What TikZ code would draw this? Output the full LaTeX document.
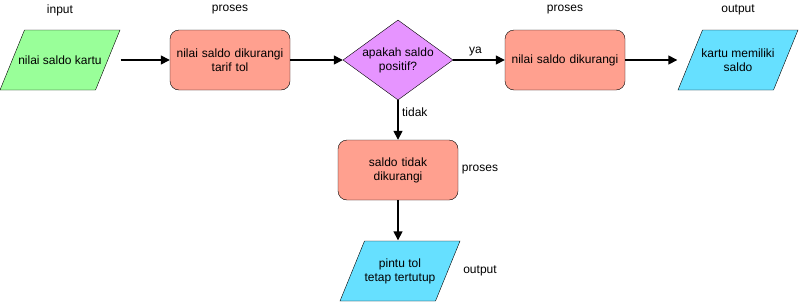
\documentclass[tikz,border=0pt]{standalone}
\usepackage{fontspec}
\setmainfont{Liberation Sans}
\usepackage{tikz}
\usetikzlibrary{positioning,shapes.geometric,arrows.meta}

\definecolor{hijau}{HTML}{99FF99}
\definecolor{salmon}{HTML}{FFA08F}
\definecolor{ungu}{HTML}{E694FF}
\definecolor{biru}{HTML}{66E0FF}

\tikzset{
  % jajaran genjang untuk input/output, digambar di dalam kotak node
  io/.style={rectangle, minimum width=121pt, minimum height=61pt, inner sep=0pt,
    align=center, path picture={
      \filldraw[fill=#1]
        ([xshift=25pt,yshift=-0.5pt]path picture bounding box.north west) --
        ([xshift=-0.5pt,yshift=-0.5pt]path picture bounding box.north east) --
        ([xshift=-25pt,yshift=0.5pt]path picture bounding box.south east) --
        ([xshift=0.5pt,yshift=0.5pt]path picture bounding box.south west) -- cycle;}},
  proses/.style={rectangle, rounded corners=9pt, draw, fill=salmon,
    minimum width=120pt, minimum height=60pt, inner sep=0pt, align=center,
    text width=116pt},
  keputusan/.style={diamond, draw, fill=ungu, minimum width=110pt,
    minimum height=80pt, inner sep=0pt},
  ket/.style={font=\fontsize{12}{14}\selectfont},
  panah/.style={-{Triangle[length=9pt,width=9pt]}, line width=1.5pt}
}

\begin{document}
\begin{tikzpicture}[on grid, font=\fontsize{12}{14}\selectfont]
    \useasboundingbox (0pt,-303pt) rectangle (800pt,0pt);
    % baris atas
    \node (inp) [io=hijau] at (60pt,-60pt) {nilai saldo kartu};
    \node (p1) [proses, right=170pt of inp] {nilai saldo dikurangi\\tarif tol};
    \node (cek) [keputusan, right=168pt of p1,
      label={[align=center]center:apakah saldo\\positif?}] {};
    \node (p2) [proses, right=167pt of cek] {nilai saldo dikurangi};
    \node (out1) [io=biru, right=173pt of p2] {kartu memiliki\\saldo};
    % cabang bawah
    \node (p3) [proses, below=110pt of cek] {saldo tidak\\dikurangi};
    \node (out2) [io=biru, below=101pt of p3, xshift=2pt] {pintu tol\\tetap tertutup};

    % keterangan
    \node (kinp) [ket, above=50pt of inp] {input};
    \node (kp1) [ket, above=50pt of p1] {proses};
    \node (kp2) [ket, above=50pt of p2] {proses};
    \node (kout1) [ket, above=50pt of out1] {output};
    \node (kp3) [ket, right=82pt of p3] {proses};
    \node (kout2) [ket, right=80pt of out2] {output};

    % panah
    \draw [panah] (inp.east) -- (p1.west);
    \draw [panah] (p1.east) -- (cek.west);
    \draw [panah] (cek.east) -- node[above, pos=0.43] {ya} (p2.west);
    \draw [panah] (p2.east) -- (out1.west);
    \draw [panah] (cek.south) -- node[right, pos=0.3] {tidak} (p3.north);
    \draw [panah] (p3.south) -- (p3.south |- out2.north);
\end{tikzpicture}
\end{document}
